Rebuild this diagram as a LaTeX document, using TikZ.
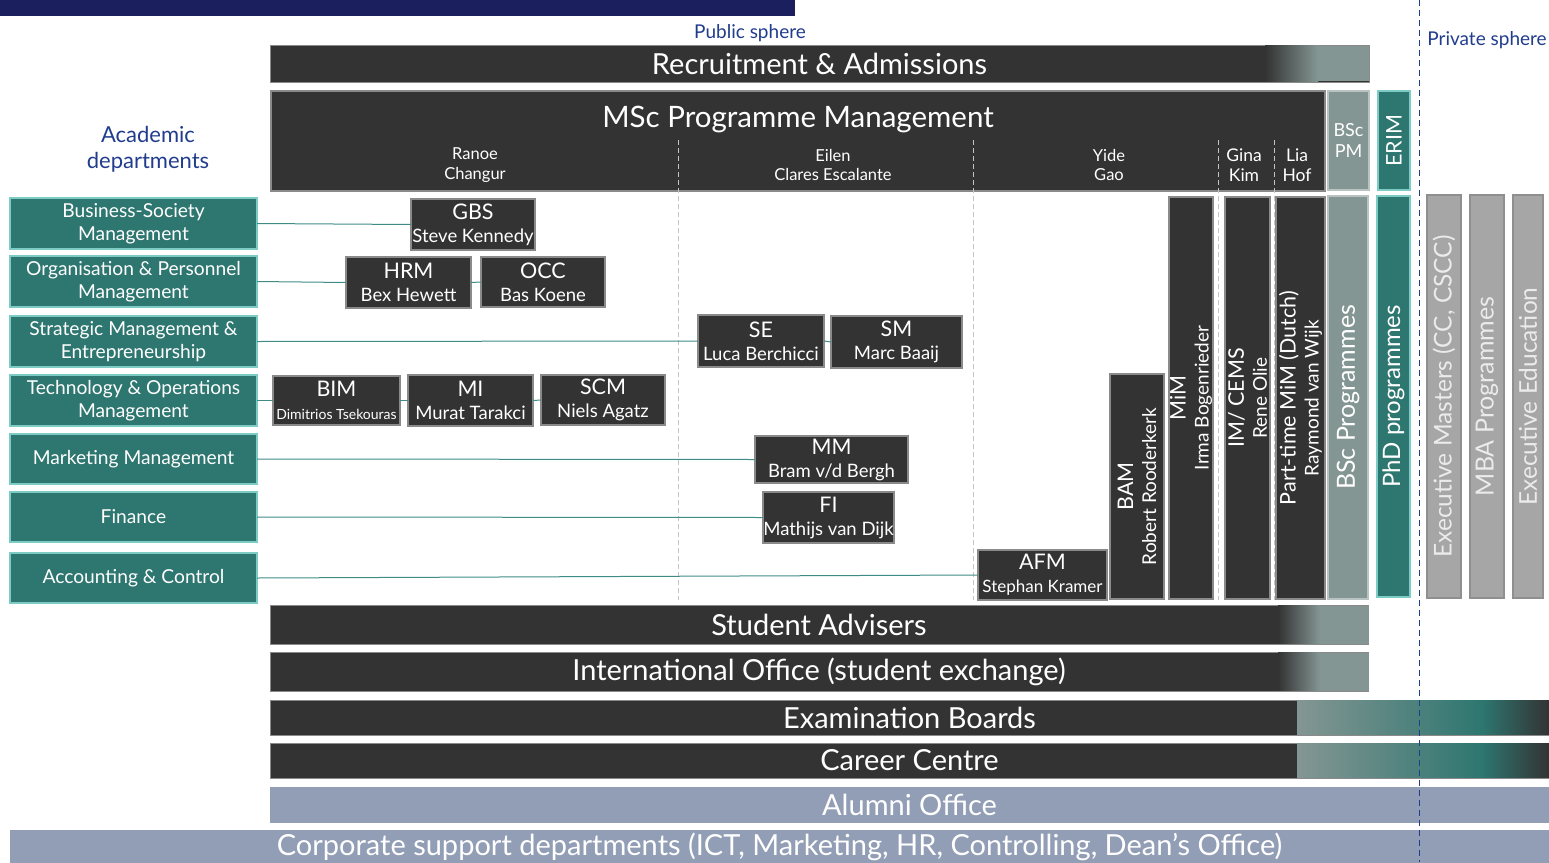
\documentclass[tikz,border=0pt]{standalone}
\usepackage{fontspec}
\setmainfont{Lato}
\definecolor{cDark}{HTML}{333333}
\definecolor{cEdge}{HTML}{8A8A8A}
\definecolor{cGreyTeal}{HTML}{849693}
\definecolor{cPale}{HTML}{B9C3C1}
\definecolor{cTeal}{HTML}{2E7670}
\definecolor{cTealEdge}{HTML}{7CCBC4}
\definecolor{cLink}{HTML}{3F8C87}
\definecolor{cNavyBar}{HTML}{1C1F5E}
\definecolor{cNavyText}{HTML}{203C8C}
\definecolor{cExec}{HTML}{A6A6A6}
\definecolor{cExecEdge}{HTML}{8F8F8F}
\definecolor{cAlumni}{HTML}{929EB6}
\definecolor{cDash}{HTML}{C4C4C4}
\def\fsz#1#2{\fontsize{#1}{#2}\selectfont}
\tikzset{
	unitbox/.style={draw=cEdge, line width=1.2pt, fill=cDark, text=white, inner sep=0pt, outer sep=0pt, align=center, anchor=north west},
	deptbox/.style={unitbox, draw=cTealEdge, fill=cTeal, font=\fsz{19.2}{23}},
	groupbox/.style={unitbox, font=\fsz{18.5}{23}},
	progbar/.style={unitbox, rotate=90, anchor=center},
	bandbar/.style={unitbox, line width=1pt, font=\fsz{29}{30}},
	link/.style={draw=cLink, line width=1pt},
	sphere/.style={text=cNavyText, font=\fsz{19}{22}},
	msclead/.style={text=white, align=center, font=\fsz{16.5}{19.5}}
}

\begin{document}
\begin{tikzpicture}[x=1pt, y=-1pt]
			\useasboundingbox (0,0) rectangle (1549,862);
			%%%%% TOP %%%%%
			
			\fill[cNavyBar] (0,0) rectangle (795,16);
			\node[sphere] (public) at (750,33) {Public sphere};
			\node[sphere] (private) at (1487,40) {Private sphere};
			\draw[cNavyText, line width=1pt, dash pattern=on 6pt off 4pt] (1419,0) -- (1419,862);
			
			\node[bandbar, minimum width=1099pt, minimum height=37pt] (recruit) at (270,45) {Recruitment \& Admissions};
			\shade[left color=cDark, right color=cGreyTeal] (1265,45.6) rectangle (1318,81.4);
			\fill[cGreyTeal] (1318,45.6) rectangle (1369.4,81.4);
			
			%%%%% PROGRAMME MANAGEMENT %%%%%
			
			\node[unitbox, minimum width=1054pt, minimum height=100pt] (msc) at (271,91) {};
			\node[text=white, font=\fsz{29.5}{31}] (msctitle) at (798,120) {MSc Programme Management};
			\node[msclead] (ranoe) at (475,165) {Ranoe\\Changur};
			\node[msclead] (eilen) at (833,165) {Eilen\\Clares Escalante};
			\node[msclead] (yide) at (1109,165) {Yide\\Gao};
			\node[msclead, font=\fsz{17.5}{19.5}] (gina) at (1244,165) {Gina\\Kim};
			\node[msclead, font=\fsz{17.5}{19.5}] (lia) at (1297,165) {Lia\\Hof};
			\foreach \x in {678,973,1218,1274}
				\draw[cDash, line width=0.8pt, dash pattern=on 5pt off 3pt] (\x,140) -- (\x,600);
			
			\node[unitbox, fill=cGreyTeal, draw=cPale, minimum width=41pt, minimum height=99pt, font=\fsz{18}{21}] (bscpm) at (1328,91) {BSc\\PM};
			\node[progbar, fill=cTeal, draw=cTealEdge, minimum width=99pt, minimum height=32pt, font=\fsz{21.5}{22}] (erim) at (1394,140.5) {ERIM};
			
			%%%%% PROGRAMMES %%%%%
			
			\node[progbar, minimum width=225pt, minimum height=54pt, font=\fsz{19}{23}] (bam) at (1137,486.5) {{\fsz{21.5}{23}BAM}\\Robert Rooderkerk};
			\node[progbar, minimum width=402pt, minimum height=44pt, font=\fsz{19}{23}] (mim) at (1191,398) {{\fsz{21.5}{23}MiM}\\Irma Bogenrieder};
			\node[progbar, minimum width=402pt, minimum height=45pt, font=\fsz{19}{23}] (imcems) at (1247.5,398) {{\fsz{21.5}{23}IM/ CEMS}\\Rene Olie};
			\node[progbar, minimum width=402pt, minimum height=49pt, font=\fsz{19}{23}] (ptmim) at (1300.5,398) {{\fsz{21.5}{23}Part-time MiM (Dutch)}\\Raymond van Wijk};
			\node[progbar, fill=cGreyTeal, draw=cPale, minimum width=403pt, minimum height=40pt, font=\fsz{25}{26}] (bscprog) at (1348,397.5) {BSc Programmes};
			\node[progbar, fill=cTeal, draw=cTealEdge, minimum width=401pt, minimum height=33pt, font=\fsz{24}{25}] (phd) at (1393.5,396.5) {PhD programmes};
			
			\node[progbar, fill=cExec, draw=cExecEdge, text=white!92!black, minimum width=403pt, minimum height=34pt, font=\fsz{24.5}{25}] (exma) at (1444,396.5) {Executive Masters (CC, CSCC)};
			\node[progbar, fill=cExec, draw=cExecEdge, text=white!92!black, minimum width=403pt, minimum height=34pt, font=\fsz{25}{25}] (mba) at (1487,396.5) {MBA Programmes};
			\node[progbar, fill=cExec, draw=cExecEdge, text=white!92!black, minimum width=403pt, minimum height=30pt, font=\fsz{24.5}{25}] (exed) at (1528,396.5) {Executive Education};
			
			%%%%% DEPARTMENTS %%%%%
			
			\node[sphere, align=center, font=\fsz{22}{26}] (academic) at (148,149) {Academic\\departments};
			
			\node[deptbox, minimum width=247pt, minimum height=51pt] (bsm) at (10,198) {Business-Society\\Management};
			\node[deptbox, minimum width=247pt, minimum height=51pt] (opm) at (10,256) {Organisation \& Personnel\\Management};
			\node[deptbox, minimum width=247pt, minimum height=51pt] (sme) at (10,316) {Strategic Management \&\\Entrepreneurship};
			\node[deptbox, minimum width=247pt, minimum height=51pt] (tom) at (10,375) {Technology \& Operations\\Management};
			\node[deptbox, minimum width=247pt, minimum height=50pt] (mkt) at (10,434) {Marketing Management};
			\node[deptbox, minimum width=247pt, minimum height=50pt] (fin) at (10,492) {Finance};
			\node[deptbox, minimum width=247pt, minimum height=50pt] (acc) at (10,553) {Accounting \& Control};
			
			%%%%% SECTIONS %%%%%
			
			\node[groupbox, minimum width=124pt, minimum height=51pt] (gbs) at (411,199) {{\fsz{21.5}{23}GBS}\\Steve Kennedy};
			\node[groupbox, minimum width=125pt, minimum height=51pt] (hrm) at (346,257) {{\fsz{21.5}{23}HRM}\\Bex Hewett};
			\node[groupbox, minimum width=124pt, minimum height=50pt] (occ) at (481,257) {{\fsz{21.5}{23}OCC}\\Bas Koene};
			\node[groupbox, minimum width=126pt, minimum height=52pt] (se) at (698,315) {{\fsz{21.5}{23}SE}\\Luca Berchicci};
			\node[groupbox, minimum width=131pt, minimum height=52pt] (sm) at (831,316) {{\fsz{21.5}{23}SM}\\Marc Baaij};
			\node[groupbox, minimum width=127pt, minimum height=49pt] (bim) at (273,376) {{\fsz{21.5}{22}BIM}\\{\fsz{14}{22}Dimitrios Tsekouras}};
			\node[groupbox, minimum width=125pt, minimum height=51pt] (mi) at (408,375) {{\fsz{21.5}{23}MI}\\Murat Tarakci};
			\node[groupbox, minimum width=124pt, minimum height=50pt] (scm) at (541,375) {{\fsz{21.5}{23}SCM}\\Niels Agatz};
			\node[groupbox, minimum width=153pt, minimum height=47pt] (mm) at (755,436) {{\fsz{21.5}{23}MM}\\Bram v/d Bergh};
			\node[groupbox, minimum width=131pt, minimum height=51pt] (fi) at (763,492) {{\fsz{21.5}{23}FI}\\Mathijs van Dijk};
			\node[groupbox, minimum width=129pt, minimum height=50pt, font=\fsz{17}{23}] (afm) at (978,550) {{\fsz{21.5}{23}AFM}\\Stephan Kramer};
			
			\draw[link] (bsm.east) -- (gbs.west);
			\draw[link] (opm.east) -- (hrm.west);
			\draw[link] (hrm.east) -- (occ.west);
			\draw[link] (sme.east) -- (se.west);
			\draw[link] (se.east) -- (sm.west);
			\draw[link] (tom.east) -- (bim.west);
			\draw[link] (bim.east) -- (mi.west);
			\draw[link] (mi.east) -- (scm.west);
			\draw[link] (mkt.east) -- (mm.west);
			\draw[link] (fin.east) -- (fi.west);
			\draw[link] (acc.east) -- (afm.west);
			
			%%%%% SUPPORT %%%%%
			
			\node[bandbar, minimum width=1098pt, minimum height=39pt] (advisers) at (270,605) {Student Advisers};
			\shade[left color=cDark, right color=cGreyTeal] (1278,605.5) rectangle (1320,643.5);
			\fill[cGreyTeal] (1320,605.5) rectangle (1368.5,643.5);
			
			\node[bandbar, minimum width=1098pt, minimum height=39pt] (intl) at (270,652) {International Office (student exchange)};
			\shade[left color=cDark, right color=cGreyTeal] (1278,652.5) rectangle (1320,690.5);
			\fill[cGreyTeal] (1320,652.5) rectangle (1368.5,690.5);
			
			\node[bandbar, minimum width=1279pt, minimum height=35pt] (exam) at (270,700) {Examination Boards};
			\shade[left color=cGreyTeal, right color=cTeal] (1297,700.5) rectangle (1482,734.5);
			\shade[left color=cTeal, right color=cDark] (1482,700.5) rectangle (1549,734.5);
			
			\node[bandbar, minimum width=1279pt, minimum height=35pt] (career) at (270,743) {Career Centre};
			\shade[left color=cGreyTeal, right color=cTeal] (1297,743.5) rectangle (1482,777.5);
			\shade[left color=cTeal, right color=cDark] (1482,743.5) rectangle (1549,777.5);
			
			\node[bandbar, draw=none, fill=cAlumni, minimum width=1279pt, minimum height=36pt] (alumni) at (270,787) {Alumni Office};
			\node[bandbar, draw=none, fill=cAlumni, minimum width=1539pt, minimum height=34pt] (corporate) at (10,830) {Corporate support departments (ICT, Marketing, HR, Controlling, Dean’s Office)};
			
			\draw[cNavyText, line width=1pt, dash pattern=on 6pt off 4pt] (1419,690) -- (1419,862);
			
			%%%%% END %%%%%
\end{tikzpicture}
\end{document}
